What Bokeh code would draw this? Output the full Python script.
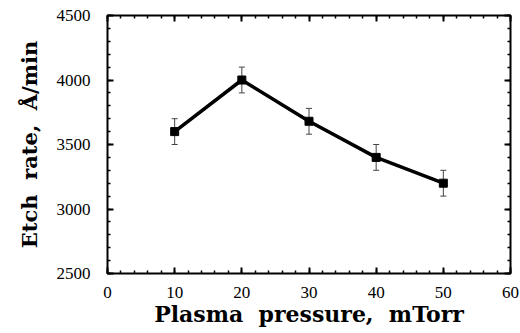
from bokeh.plotting import figure
from bokeh.models import Range1d, FixedTicker, LinearAxis, Whisker, ColumnDataSource
from bokeh.embed import file_html
from bokeh.resources import INLINE

# data
pressure = [10, 20, 30, 40, 50]
etch_rate = [3600, 4000, 3680, 3400, 3200]
error = [100, 100, 100, 100, 100]
x_ticks = [0, 10, 20, 30, 40, 50, 60]
y_ticks = [2500, 3000, 3500, 4000, 4500]
x_title = "Plasma\u00a0\u00a0pressure,\u00a0\u00a0mTorr"
y_title = "Etch\u00a0\u00a0rate,\u00a0\u00a0Å/min"

src = ColumnDataSource(dict(
    x=pressure, y=etch_rate,
    lo=[v - e for v, e in zip(etch_rate, error)],
    hi=[v + e for v, e in zip(etch_rate, error)],
))

FONT = "Liberation Serif"
TFONT = "DejaVu Serif"

p = figure(width=520, height=333, output_backend="svg", toolbar_location=None,
           x_range=Range1d(0, 60), y_range=Range1d(2500, 4500),
           min_border_left=107, min_border_right=10, min_border_top=15, min_border_bottom=60)
p.background_fill_color = "white"
p.border_fill_color = "white"
p.grid.visible = False
p.outline_line_color = "black"
p.outline_line_width = 2

xt = FixedTicker(ticks=x_ticks, minor_ticks=list(range(0, 61, 2)))
yt = FixedTicker(ticks=y_ticks, minor_ticks=list(range(2500, 4501, 100)))

def style(ax, ticker, show_labels):
    ax.ticker = ticker
    ax.axis_line_color = None
    ax.major_tick_in = 6
    ax.major_tick_out = 0
    ax.minor_tick_in = 3
    ax.minor_tick_out = 0
    ax.major_tick_line_width = 2
    ax.minor_tick_line_width = 1.5
    ax.major_tick_line_color = "black"
    ax.minor_tick_line_color = "black"
    if show_labels:
        ax.major_label_text_font = FONT
        ax.major_label_text_font_size = "17px"
        ax.major_label_text_color = "black"
        ax.axis_label_text_font = TFONT
        ax.axis_label_text_font_style = "bold"
        ax.axis_label_text_color = "black"
    else:
        ax.major_label_text_font_size = "0px"
        ax.major_label_text_color = None
        ax.major_label_standoff = 0

style(p.xaxis[0], xt, True)
style(p.yaxis[0], yt, True)
p.xaxis[0].axis_label = x_title
p.yaxis[0].axis_label = y_title
p.xaxis[0].axis_label_text_font_size = "22px"
p.yaxis[0].axis_label_text_font_size = "21px"
p.xaxis[0].major_label_standoff = 13
p.xaxis[0].axis_label_standoff = 0
p.yaxis[0].major_label_standoff = 17
p.yaxis[0].axis_label_standoff = 12

top = LinearAxis()
right = LinearAxis()
style(top, xt, False)
style(right, yt, False)
p.add_layout(top, "above")
p.add_layout(right, "right")

w = Whisker(source=src, base="x", lower="lo", upper="hi", line_color="#444444", line_width=1)
w.upper_head.line_color = "#444444"
w.lower_head.line_color = "#444444"
w.upper_head.size = 6
w.lower_head.size = 6
p.add_layout(w)

p.line("x", "y", source=src, line_color="black", line_width=3.5)
p.scatter("x", "y", source=src, marker="square", size=8, color="black")

open("out.html", "w").write(file_html(p, INLINE))
